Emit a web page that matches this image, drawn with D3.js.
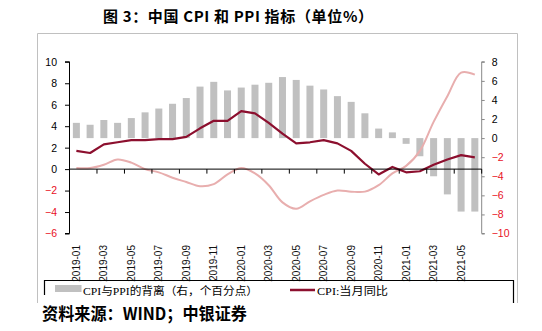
<!DOCTYPE html>
<html><head><meta charset="utf-8">
<script src="https://cdn.jsdelivr.net/npm/d3@7"></script>
<style>
body{margin:0;background:#fff;}
svg{display:block;}
</style></head>
<body>
<svg id="chart" width="542" height="331"></svg>
<script>
const months = ["2019-01","2019-02","2019-03","2019-04","2019-05","2019-06","2019-07","2019-08","2019-09","2019-10","2019-11","2019-12",
"2020-01","2020-02","2020-03","2020-04","2020-05","2020-06","2020-07","2020-08","2020-09","2020-10","2020-11","2020-12",
"2021-01","2021-02","2021-03","2021-04","2021-05","2021-06"];
const cpi = [1.7,1.5,2.3,2.5,2.7,2.7,2.8,2.8,3.0,3.8,4.5,4.5,5.4,5.2,4.3,3.3,2.4,2.5,2.7,2.4,1.7,0.5,-0.5,0.2,-0.3,-0.2,0.4,0.9,1.3,1.1];
const ppi = [0.1,0.1,0.4,0.9,0.6,0.0,-0.3,-0.8,-1.2,-1.6,-1.4,-0.5,0.1,-0.4,-1.5,-3.1,-3.7,-3.0,-2.4,-2.0,-2.1,-2.1,-1.5,-0.4,0.3,1.7,4.4,6.8,9.0,8.8];
const gap = [1.6,1.4,1.9,1.6,2.1,2.7,3.1,3.6,4.2,5.4,5.9,5.0,5.3,5.6,5.8,6.4,6.1,5.5,5.1,4.4,3.8,2.6,1.0,0.6,-0.6,-1.9,-4.0,-5.9,-7.7,-7.7];
const leftTicks = [10,8,6,4,2,0,-2,-4,-6];
const rightTicks = [8,6,4,2,0,-2,-4,-6,-8,-10];
const labelMonths = months.filter((m,i)=>i%2===0);
const title = "图 3：中国 CPI 和 PPI 指标（单位%）";
const source = "资料来源：WIND；中银证券";
const legendGap = "CPI与PPI的背离（右，个百分点）";
const legendCpi = "CPI:当月同比";

const svg = d3.select("#chart");
const X0 = 69.5, X1 = 481.7, Ytop = 61.8, Ybot = 233.5;
const x = d3.scaleBand().domain(months).range([X0, X1]).paddingInner(0.49).paddingOuter(0.245);
const xb = d3.scaleBand().domain(months).range([X0, X1]);
const yL = d3.scaleLinear().domain([-6,10]).range([Ybot, Ytop]);
const yR = d3.scaleLinear().domain([-10,8]).range([Ybot, Ytop]);
const RED = "#e8101e";

// frame
svg.append("path").attr("d", `M37.5,303 V33.5 H517.5 V303`).attr("fill","none").attr("stroke","#c0c0c0").attr("stroke-width",1);

// title
svg.append("text").attr("x",103).attr("y",22).attr("font-family","'Noto Sans CJK SC', sans-serif")
  .attr("font-weight","bold").attr("font-size",15).attr("textLength",270).attr("lengthAdjust","spacing").text(title);

// bars
svg.append("g").selectAll("rect").data(months).join("rect")
  .attr("x", d=>x(d)).attr("width", x.bandwidth())
  .attr("y", (d,i)=>Math.min(yR(gap[i]), yR(0)))
  .attr("height", (d,i)=>Math.abs(yR(gap[i])-yR(0)))
  .attr("fill","#c0c0c0");

// PPI line (smooth)
const lineL = d3.line().x((d,i)=>xb(months[i])+xb.bandwidth()/2).y(d=>yL(d));
svg.append("path").datum(ppi).attr("d", lineL.curve(d3.curveCatmullRom.alpha(0.5)))
  .attr("fill","none").attr("stroke","#e8aeae").attr("stroke-width",2);
// CPI line
svg.append("path").datum(cpi).attr("d", d3.line().x((d,i)=>xb(months[i])+xb.bandwidth()/2).y(d=>yL(d)).curve(d3.curveLinear))
  .attr("fill","none").attr("stroke","#8c0f2e").attr("stroke-width",2.2).attr("stroke-linejoin","round");

// left axis
const gL = svg.append("g").attr("transform",`translate(${X0},0)`)
  .call(d3.axisLeft(yL).tickValues(leftTicks).tickSize(4.5).tickPadding(8).tickFormat(d3.format("d")));
gL.select(".domain").attr("stroke","#000").attr("d",`M-4.5,${Ytop}H0V${Ybot}H-4.5`);
gL.selectAll(".tick line").attr("stroke","#000");
gL.selectAll("text").attr("font-family","'Liberation Sans', Arial, sans-serif").attr("font-size",10.5)
  .attr("fill", d=> d<0 ? RED : "#000");

// right axis
const gR = svg.append("g").attr("transform",`translate(${X1},0)`)
  .call(d3.axisRight(yR).tickValues(rightTicks).tickSize(3).tickPadding(7).tickFormat(d3.format("d")));
gR.select(".domain").attr("stroke","#888").attr("d",`M3,${Ytop}H0V${Ybot}H3`);
gR.selectAll(".tick line").attr("stroke","#888");
gR.selectAll("text").attr("font-family","'Liberation Sans', Arial, sans-serif").attr("font-size",10.5)
  .attr("fill", d=> d<0 ? RED : "#000");

// x axis at left 0
const y0 = yL(0);
const tickPos = d3.range(0, months.length+1, 2).map(k => X0 + k*xb.step());
svg.append("line").attr("x1",X0).attr("x2",X1).attr("y1",y0).attr("y2",y0).attr("stroke","#000").attr("stroke-width",1);
svg.append("g").selectAll("line").data(tickPos).join("line")
  .attr("x1",d=>d).attr("x2",d=>d).attr("y1",y0).attr("y2",y0+4.5).attr("stroke","#000");
svg.append("g").selectAll("text").data(labelMonths).join("text")
  .attr("transform", d=>`translate(${xb(d)+xb.bandwidth()/2},245) rotate(-90)`)
  .attr("text-anchor","end").attr("dy","0.35em")
  .attr("font-family","'Liberation Sans', Arial, sans-serif").attr("font-size",10).attr("fill","#111")
  .text(d=>d);

// legend box
svg.append("path").attr("d","M44.5,295 V280.5 H513.5 V303").attr("fill","none").attr("stroke","#000").attr("stroke-width",1.2);
svg.append("rect").attr("x",55).attr("y",285).attr("width",26.5).attr("height",7).attr("fill","#c0c0c0");
svg.append("text").attr("x",83).attr("y",295.3).attr("font-family","'Liberation Serif', 'Noto Sans CJK SC', serif")
  .attr("font-size",11).attr("textLength",175).attr("lengthAdjust","spacingAndGlyphs").text(legendGap);
svg.append("line").attr("x1",290).attr("x2",315).attr("y1",290).attr("y2",290).attr("stroke","#8c0f2e").attr("stroke-width",2.5);
svg.append("text").attr("x",317).attr("y",295.3).attr("font-family","'Liberation Serif', 'Noto Sans CJK SC', serif")
  .attr("font-size",11).attr("textLength",71).attr("lengthAdjust","spacingAndGlyphs").text(legendCpi);

// source
svg.append("text").attr("x",42).attr("y",320).attr("font-family","'Noto Sans CJK SC', sans-serif")
  .attr("font-weight","bold").attr("font-size",16.5).attr("textLength",205).attr("lengthAdjust","spacingAndGlyphs").text(source);
</script>
</body></html>
